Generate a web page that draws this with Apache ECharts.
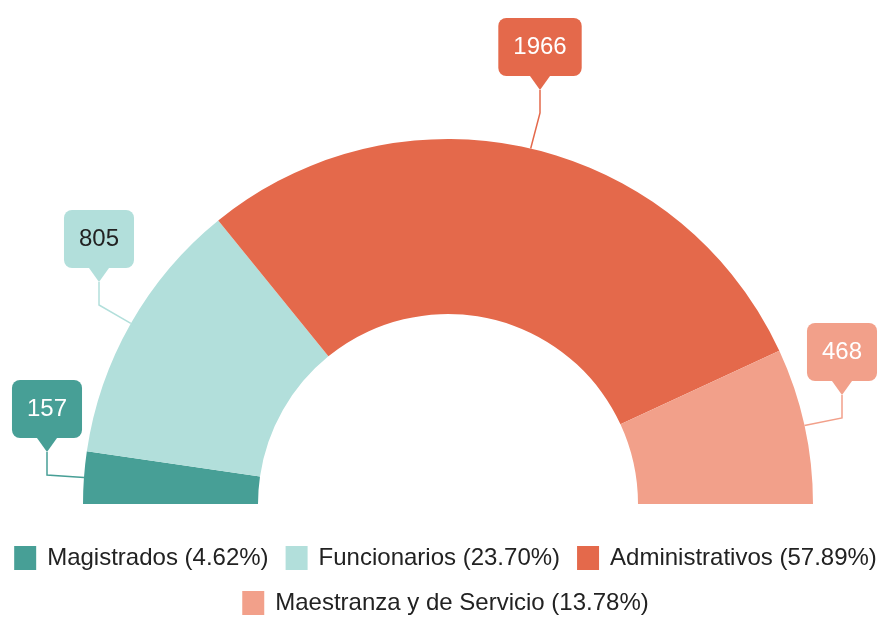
<!DOCTYPE html>
<html>
<head>
<meta charset="utf-8">
<script src="https://cdn.jsdelivr.net/npm/echarts@6/dist/echarts.min.js"></script>
<style>
  html, body { margin: 0; padding: 0; background: #fff; }
  #main { width: 891px; height: 617px; }
</style>
</head>
<body>
<div id="main"></div>
<script>
const categories = ['Magistrados', 'Funcionarios', 'Administrativos', 'Maestranza y de Servicio']
const values = [157, 805, 1966, 468]
const colors = ['#479f96', '#b2dfdb', '#e4694b', '#f2a08a']
const labelTextColors = ['#fff', '#222', '#fff', '#fff']
// punta de cada globo (x, y)
const labelTips = [[47, 452], [99, 282], [540, 90], [842, 395]]
const stemLength = 23

const total = values.reduce((s, v) => s + v, 0)

// flecha del globo
const makeArrow = (color) => {
  const c = document.createElement('canvas')
  c.width = 20
  c.height = 14
  const g = c.getContext('2d')
  g.fillStyle = color
  g.beginPath()
  g.moveTo(0, 0)
  g.lineTo(20, 0)
  g.lineTo(10, 14)
  g.closePath()
  g.fill()
  return c
}

const rich = {}
colors.forEach((color, i) => {
  rich['box' + i] = {
    backgroundColor: color,
    borderRadius: 8,
    padding: [14, 15],
    height: 30,
    lineHeight: 58,
    fontSize: 24,
    color: labelTextColors[i],
    fontFamily: 'Liberation Sans, Arial, sans-serif',
    align: 'center'
  }
  rich['arr' + i] = {
    backgroundColor: { image: makeArrow(color) },
    width: 20,
    height: 14,
    lineHeight: 14,
    fontSize: 10,
    align: 'center'
  }
})

const legendText = {
  fontSize: 24,
  lineHeight: 30,
  color: '#222',
  fontFamily: 'Liberation Sans, Arial, sans-serif',
  padding: [0, 0, 0, 6]
}
const legendFormatter = (name) => {
  const v = values[categories.indexOf(name)]
  return `${name} (${(v / total * 100).toFixed(2)}%)`
}

const myChart = echarts.init(document.getElementById('main'))

let option = {
  color: colors,
  animation: false,
  legend: [
    {
      data: categories.slice(0, 3),
      left: 'center',
      top: 538,
      itemWidth: 22,
      itemHeight: 24,
      itemGap: 17,
      icon: 'rect',
      textStyle: legendText,
      formatter: legendFormatter
    },
    {
      data: categories.slice(3),
      left: 'center',
      top: 583,
      itemWidth: 22,
      itemHeight: 24,
      icon: 'rect',
      textStyle: legendText,
      formatter: legendFormatter
    }
  ],
  series: [
    {
      type: 'pie',
      center: [448, 504],
      radius: [190, 365],
      startAngle: 180,
      endAngle: 0,
      clockwise: true,
      itemStyle: { borderWidth: 0 },
      label: {
        show: true,
        position: 'outside',
        overflow: 'none',
        formatter: (p) => `{box${p.dataIndex}|${p.value}}\n{arr${p.dataIndex}| }`,
        rich: rich
      },
      labelLine: {
        show: true,
        length: 10,
        length2: 22,
        smooth: false,
        lineStyle: { width: 1.5 }
      },
      labelLayout: (params) => {
        const tip = labelTips[params.dataIndex]
        const anchor = params.labelLinePoints[0]
        return {
          x: tip[0],
          y: tip[1],
          align: 'center',
          verticalAlign: 'bottom',
          labelLinePoints: [anchor, [tip[0], tip[1] + stemLength], [tip[0], tip[1]]]
        }
      },
      emphasis: { disabled: true },
      data: categories.map((name, i) => ({ name: name, value: values[i] }))
    }
  ]
}

myChart.setOption(option)
</script>
</body>
</html>
